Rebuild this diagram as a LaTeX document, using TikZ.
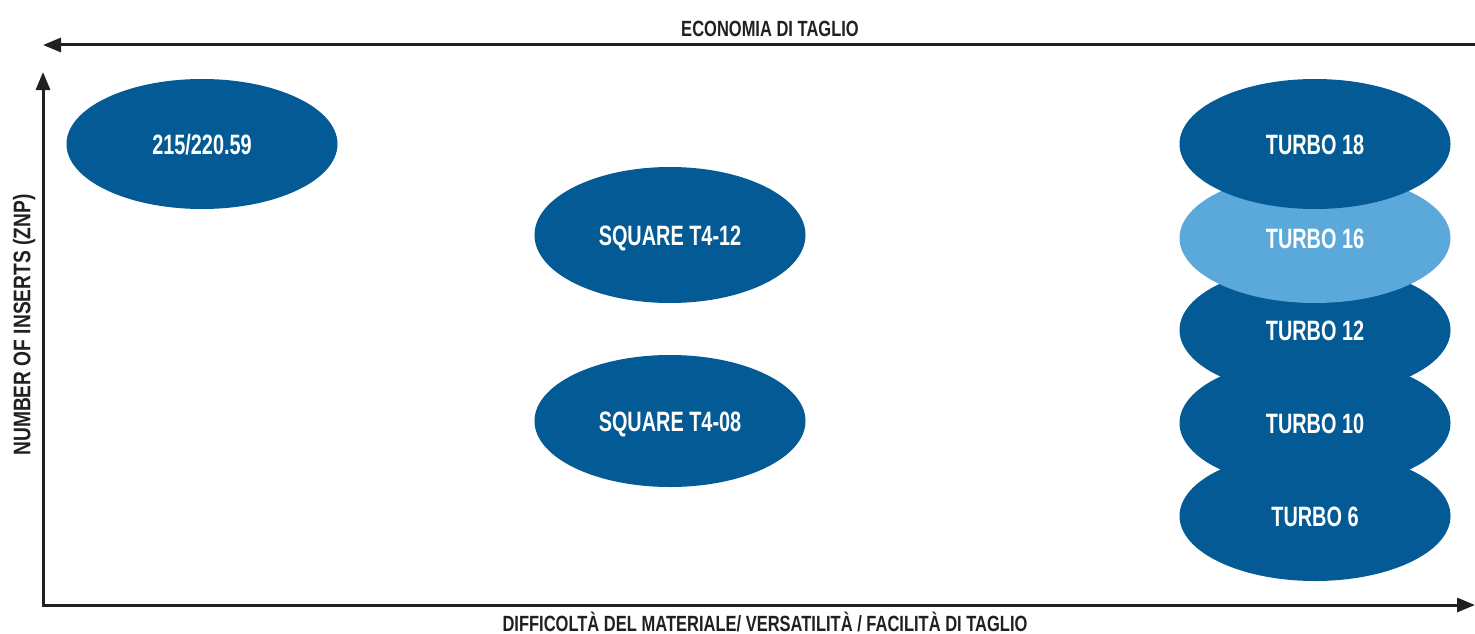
\documentclass[tikz,border=0pt]{standalone}
\usepackage{fontspec}
\setmainfont{Liberation Sans}
\newfontfamily\ellfont[FakeStretch=0.71]{Liberation Sans Bold}
\newfontfamily\axfont[FakeStretch=0.75]{Liberation Sans Bold}
\newfontfamily\yfont[FakeStretch=0.8]{Liberation Sans Bold}
\usetikzlibrary{shapes.geometric,arrows.meta}
\definecolor{darkblue}{HTML}{035A94}
\definecolor{lightblue}{HTML}{5BA8DA}
\definecolor{axisgray}{HTML}{231F20}
\tikzset{
  blob/.style={ellipse, fill=darkblue, draw=none, minimum width=271pt, minimum height=130pt, inner sep=0pt,
    text=white, font=\ellfont\fontsize{28}{28}\selectfont, text height=20pt, text depth=0pt},
  lightblob/.style={blob, fill=lightblue},
  axis/.style={draw=axisgray, line width=3pt, -{Triangle[length=18pt,width=14pt]}},
  axlabel/.style={text=axisgray, font=\axfont\fontsize{22}{22}\selectfont, inner sep=0pt, text height=15pt, text depth=0pt}
}
\begin{document}
\begin{tikzpicture}[x=1pt,y=-1pt]
\useasboundingbox (0,0) rectangle (1475,634);
% axes
\coordinate (topR) at (1475,45);
\coordinate (topL) at (43,45);
\coordinate (origin) at (43,605);
\coordinate (yTip) at (43,72);
\coordinate (xTip) at (1475,605);
\draw[axis] (topR) -- (topL);
\draw[axis] (origin) -- (yTip);
\draw[axis, shorten <=-1.5pt] (origin) -- (xTip);
\node[axlabel] (lblTop) at (770,29) {ECONOMIA DI TAGLIO};
\node[axlabel] (lblBottom) at (765,624) {DIFFICOLTÀ DEL MATERIALE/ VERSATILITÀ / FACILITÀ DI TAGLIO};
\node[axlabel, font=\yfont\fontsize{24}{24}\selectfont, text height=17pt, rotate=90] (lblLeft) at (22,325) {NUMBER OF INSERTS (ZNP)};
% ellipses
\node[blob] (e215) at (202,144) {215/220.59};
\node[blob, minimum height=136pt] (sq12) at (670,235) {SQUARE T4-12};
\node[blob, minimum height=132pt] (sq08) at (670,421) {SQUARE T4-08};
\node[blob] (t6) at (1315,516) {TURBO 6};
\node[blob] (t10) at (1315,423) {TURBO 10};
\node[blob] (t12) at (1315,330) {TURBO 12};
\node[lightblob] (t16) at (1315,238) {TURBO 16};
\node[blob] (t18) at (1315,144) {TURBO 18};
\end{tikzpicture}
\end{document}
